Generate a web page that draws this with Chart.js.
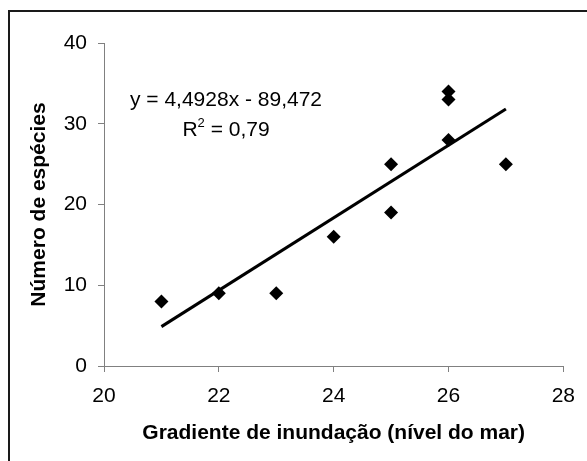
<!DOCTYPE html>
<html>
<head>
<meta charset="utf-8">
<script src="https://cdn.jsdelivr.net/npm/chart.js@4.4.1/dist/chart.umd.min.js"></script>
<style>
  html, body { margin: 0; padding: 0; background: #fff; }
  #wrap { width: 587px; height: 461px; position: relative; }
</style>
</head>
<body>
<div id="wrap"><canvas id="chart"></canvas></div>
<script>
/* ─── dados ─── */
const gradiente = [21, 22, 23, 24, 25, 25, 26, 26, 26, 27];
const especies  = [8, 9, 9, 16, 25, 19, 34, 33, 28, 25];
const slope = 4.4928, intercept = -89.472;
const trendX = [21, 27];
const xTicks = [20, 22, 24, 26, 28];
const yTicks = [0, 10, 20, 30, 40];
const eqLabel = 'y = 4,4928x - 89,472';
const r2Label = 'R';
const r2Value = ' = 0,79';

const FONT = "'Liberation Sans', Arial, sans-serif";
const AXIS_GRAY = '#808080';

/* ─── moldura + equação ─── */
const framePlugin = {
    id: 'frame',
    beforeDraw(chart) {
        const ctx = chart.ctx;
        ctx.save();
        ctx.strokeStyle = '#1a1a1a';
        ctx.lineWidth = 2;
        ctx.beginPath();
        ctx.moveTo(9, chart.height);
        ctx.lineTo(9, 11);
        ctx.lineTo(chart.width, 11);
        ctx.stroke();
        ctx.restore();
    },
    afterDatasetsDraw(chart) {
        const ctx = chart.ctx;
        const cx = 226;
        ctx.save();
        ctx.fillStyle = '#000';
        ctx.textBaseline = 'middle';
        ctx.font = `21px ${FONT}`;
        ctx.textAlign = 'center';
        ctx.fillText(eqLabel, cx, 100);
        /* R² */
        const wR = ctx.measureText(r2Label).width;
        const wV = ctx.measureText(r2Value).width;
        ctx.font = `13px ${FONT}`;
        const w2 = ctx.measureText('2').width;
        const x0 = cx - (wR + w2 + wV) / 2;
        ctx.textAlign = 'left';
        ctx.font = `21px ${FONT}`;
        ctx.fillText(r2Label, x0, 130);
        ctx.fillText(r2Value, x0 + wR + w2, 130);
        ctx.font = `13px ${FONT}`;
        ctx.fillText('2', x0 + wR, 123);
        ctx.restore();
    },
};

const tickFont = { family: FONT, size: 21 };
const titleFont = { family: FONT, size: 21, weight: 'bold' };

new Chart(document.getElementById('chart'), {
    type: 'scatter',
    data: {
        datasets: [
            {
                label: 'Espécies',
                data: gradiente.map((x, i) => ({ x, y: especies[i] })),
                pointStyle: 'rectRot',
                pointRadius: 7,
                pointHoverRadius: 7,
                backgroundColor: '#000',
                borderColor: '#000',
                borderWidth: 0,
            },
            {
                type: 'line',
                label: 'Tendência',
                data: trendX.map(x => ({ x, y: slope * x + intercept })),
                borderColor: '#000',
                borderWidth: 3,
                pointRadius: 0,
                fill: false,
            },
        ],
    },
    options: {
        responsive: true,
        maintainAspectRatio: false,
        animation: false,
        layout: { padding: { top: 43, right: 18, left: 0, bottom: 0 } },
        plugins: { legend: { display: false }, tooltip: { enabled: false } },
        scales: {
            x: {
                type: 'linear',
                min: 20, max: 28,
                afterBuildTicks: s => { s.ticks = xTicks.map(v => ({ value: v })); },
                afterFit: s => { s.height = 95; },
                ticks: { color: '#000', font: tickFont, padding: 12 },
                grid: { drawOnChartArea: false, tickLength: 6, color: AXIS_GRAY },
                border: { color: AXIS_GRAY, width: 1 },
                title: {
                    display: true, text: 'Gradiente de inundação (nível do mar)',
                    color: '#000', font: titleFont, padding: { top: 0, bottom: 15 },
                },
            },
            y: {
                min: 0, max: 40,
                afterBuildTicks: s => { s.ticks = yTicks.map(v => ({ value: v })); },
                afterFit: s => { s.width = 104; },
                ticks: { color: '#000', font: tickFont, padding: 11 },
                grid: { drawOnChartArea: false, tickLength: 6, color: AXIS_GRAY },
                border: { color: AXIS_GRAY, width: 1 },
                title: {
                    display: true, text: 'Número de espécies',
                    color: '#000', font: titleFont, padding: { top: 27, bottom: 0 },
                },
            },
        },
    },
    plugins: [framePlugin],
});
</script>
</body>
</html>
